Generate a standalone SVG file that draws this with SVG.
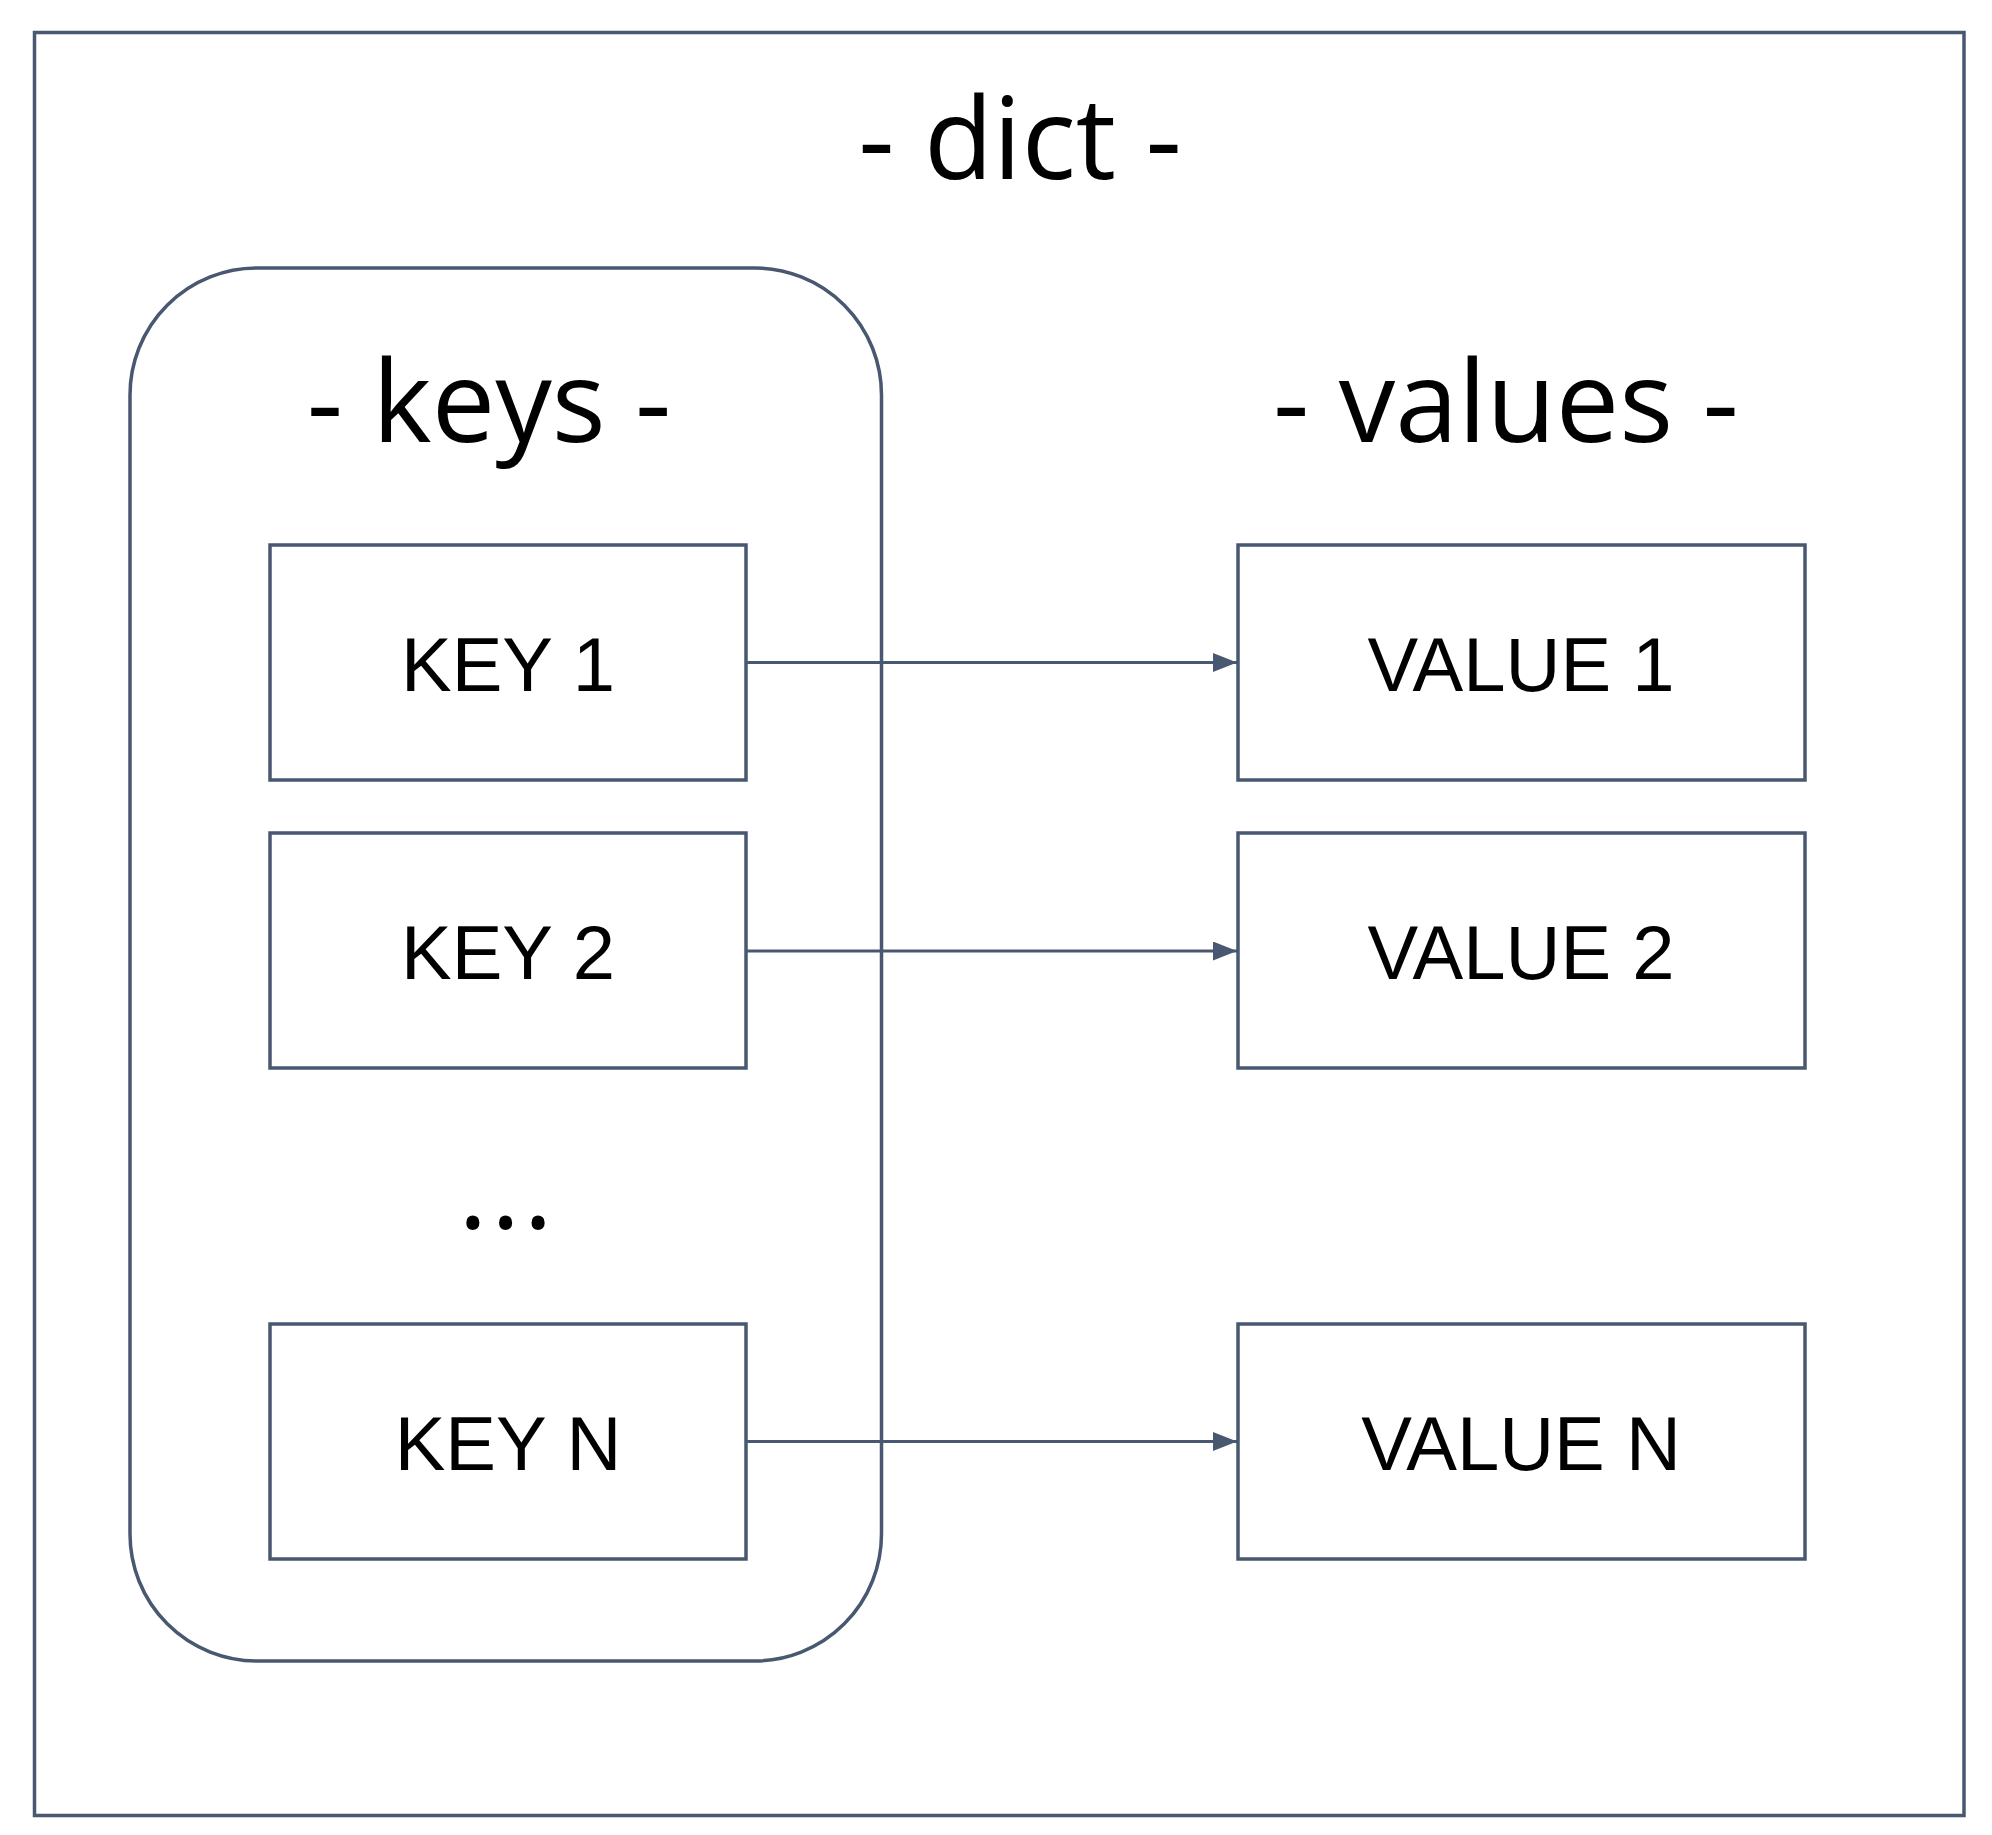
<svg xmlns="http://www.w3.org/2000/svg" width="1992" height="1835" viewBox="0 0 1992 1835">
<style>
.box{fill:#fff;stroke:#485870;stroke-width:3.5}
.frame{fill:none;stroke:#485870;stroke-width:3.5}
.title{font-family:"Open Sans","Noto Sans",sans-serif;font-size:113px;fill:#000;text-anchor:middle}
.lbl{font-family:"Liberation Sans",Arial,sans-serif;font-size:76px;fill:#000;text-anchor:middle}
.conn{stroke:#485870;stroke-width:3;fill:none;marker-end:url(#arr)}
</style>
<defs>
<marker id="arr" markerUnits="userSpaceOnUse" markerWidth="26" markerHeight="20" refX="24" refY="9.5" orient="auto">
<path d="M0,0 L24,9.5 L0,19 z" fill="#485870"/>
</marker>
</defs>
<rect width="1992" height="1835" fill="#fff"/>
<g id="dict">
<rect class="frame" x="34.5" y="32.5" width="1929.5" height="1783"/>
<text class="title" x="1020" y="179">- dict -</text>
</g>
<g id="keys">
<rect class="frame" x="130" y="268" width="751.5" height="1393" rx="127" ry="127"/>
<text class="title" x="489" y="442">- keys -</text>
<text class="title" x="507" y="1228" letter-spacing="3">...</text>
</g>
<g id="values-title">
<text class="title" x="1506" y="442">- values -</text>
</g>
<g id="key1">
<rect class="box" x="270" y="545" width="476" height="235"/>
<text class="lbl" x="508" y="691">KEY 1</text>
</g>
<g id="key2">
<rect class="box" x="270" y="833" width="476" height="235"/>
<text class="lbl" x="508" y="979">KEY 2</text>
</g>
<g id="keyN">
<rect class="box" x="270" y="1324" width="476" height="235"/>
<text class="lbl" x="508" y="1470">KEY N</text>
</g>
<g id="value1">
<rect class="box" x="1238" y="545" width="567" height="235"/>
<text class="lbl" x="1521" y="691">VALUE 1</text>
</g>
<g id="value2">
<rect class="box" x="1238" y="833" width="567" height="235"/>
<text class="lbl" x="1521" y="979">VALUE 2</text>
</g>
<g id="valueN">
<rect class="box" x="1238" y="1324" width="567" height="235"/>
<text class="lbl" x="1521" y="1470">VALUE N</text>
</g>
<g id="connectors">
<line class="conn" x1="746" y1="662.5" x2="1237" y2="662.5"/>
<line class="conn" x1="746" y1="951" x2="1237" y2="951"/>
<line class="conn" x1="746" y1="1441.5" x2="1237" y2="1441.5"/>
</g>
</svg>
